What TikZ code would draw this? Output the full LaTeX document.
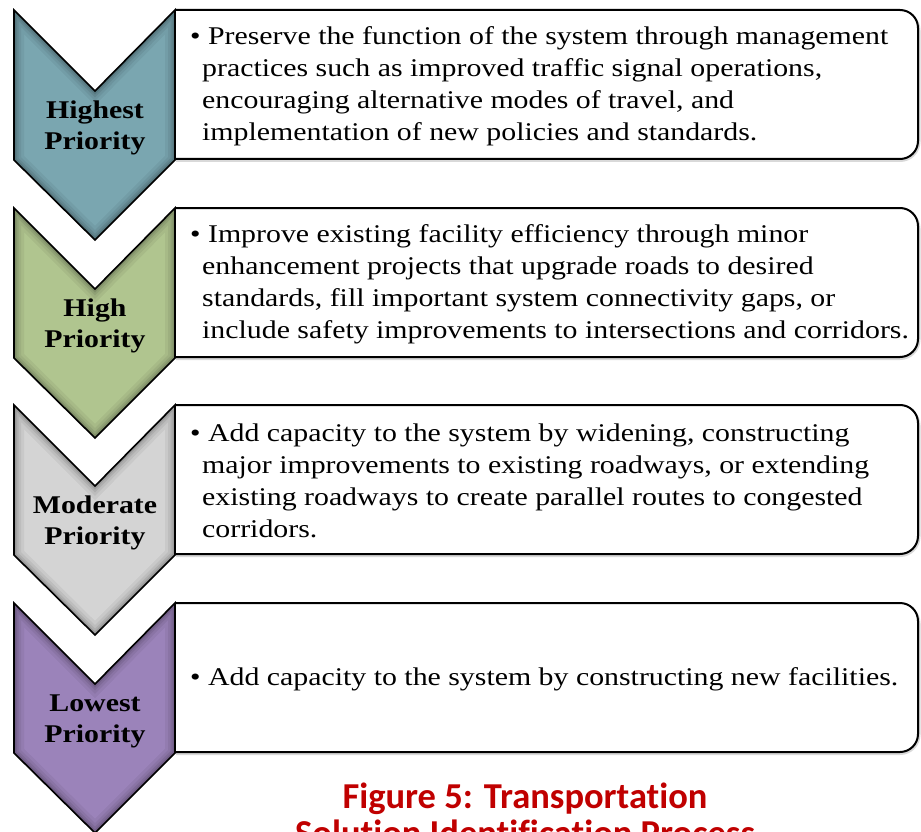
\documentclass[tikz,border=0pt]{standalone}
\usepackage{fontspec}
\setmainfont[FakeStretch=1.17]{Liberation Serif}
\newfontfamily\capfont[Ligatures=NoCommon]{Carlito}
\definecolor{cteal}{RGB}{122,166,176}
\definecolor{cgreen}{RGB}{176,197,143}
\definecolor{cgrey}{RGB}{212,212,212}
\definecolor{cpurple}{RGB}{155,131,186}
\definecolor{capred}{RGB}{192,0,0}
\tikzset{
  bodytext/.style={anchor=west, align=left, inner sep=0pt, font=\fontsize{25.5}{32}\selectfont},
  labtext/.style={align=center, inner sep=0pt, font=\bfseries\fontsize{25.5}{31}\selectfont},
  boxline/.style={line width=2pt, line join=round},
  chevline/.style={line width=1.6pt, line join=miter},
  captext/.style={anchor=base, inner sep=0pt, text=capred, font=\capfont\bfseries\fontsize{36.5}{40}\selectfont}
}
\newcommand\chevpath[1]{(14,#1) -- (95,#1+81) -- (175,#1) -- (175,#1+150) -- (95,#1+230) -- (14,#1+150) -- cycle}
\newcommand\chevron[2]{%
  \begin{scope}
    \clip \chevpath{#1};
    \fill[#2] \chevpath{#1};
    \foreach \w/\o in {20/0.05,14/0.06,9/0.08,5/0.1,2/0.14}
      \draw[line width=\w pt, black, opacity=\o] \chevpath{#1};
  \end{scope}
  \draw[chevline] \chevpath{#1};
}
\newcommand\boxshape[1]{%
  \draw[line width=3pt, black!15, rounded corners=19pt] (176,#1+1.5) -- (919,#1+1.5) -- (919,#1+150.5) -- (176,#1+150.5);
  \fill[white, rounded corners=18pt] (175,#1) -- (918,#1) -- (918,#1+149) -- (150,#1+149) -- (150,#1) -- cycle;
  \draw[boxline, rounded corners=18pt] (175,#1) -- (918,#1) -- (918,#1+149) -- (175,#1+149);
  \draw[boxline] (175,#1) -- (175,#1+149);
}
\begin{document}
\begin{tikzpicture}[x=1pt,y=-1pt]
\useasboundingbox (0,0) rectangle (921,832);
\clip (0,0) rectangle (921,832);

% row 1
\boxshape{10}
\chevron{10}{cteal}
\node[labtext] (lab1) at (95,128) {Highest\\Priority};
\node[bodytext] (txt1) at (190,86) {\textbullet\ Preserve the function of the system through management\\
\hspace*{12pt}practices such as improved traffic signal operations,\\
\hspace*{12pt}encouraging alternative modes of travel, and\\
\hspace*{12pt}implementation of new policies and standards.};

% row 2
\boxshape{208}
\chevron{208}{cgreen}
\node[labtext] (lab2) at (95,326) {High\\Priority};
\node[bodytext] (txt2) at (190,284) {\textbullet\ Improve existing facility efficiency through minor\\
\hspace*{12pt}enhancement projects that upgrade roads to desired\\
\hspace*{12pt}standards, fill important system connectivity gaps, or\\
\hspace*{12pt}include safety improvements to intersections and corridors.};

% row 3
\boxshape{405}
\chevron{405}{cgrey}
\node[labtext] (lab3) at (95,523) {Moderate\\Priority};
\node[bodytext] (txt3) at (190,481) {\textbullet\ Add capacity to the system by widening, constructing\\
\hspace*{12pt}major improvements to existing roadways, or extending\\
\hspace*{12pt}existing roadways to create parallel routes to congested\\
\hspace*{12pt}corridors.};

% row 4
\boxshape{603}
\chevron{603}{cpurple}
\node[labtext] (lab4) at (95,721) {Lowest\\Priority};
\node[bodytext] (txt4) at (190,679) {\textbullet\ Add capacity to the system by constructing new facilities.};

% caption
\node[captext] (cap1) at (525,808) {Figure 5: Transportation};
\node[captext] (cap2) at (525,845) {Solution Identification Process};
\end{tikzpicture}
\end{document}
